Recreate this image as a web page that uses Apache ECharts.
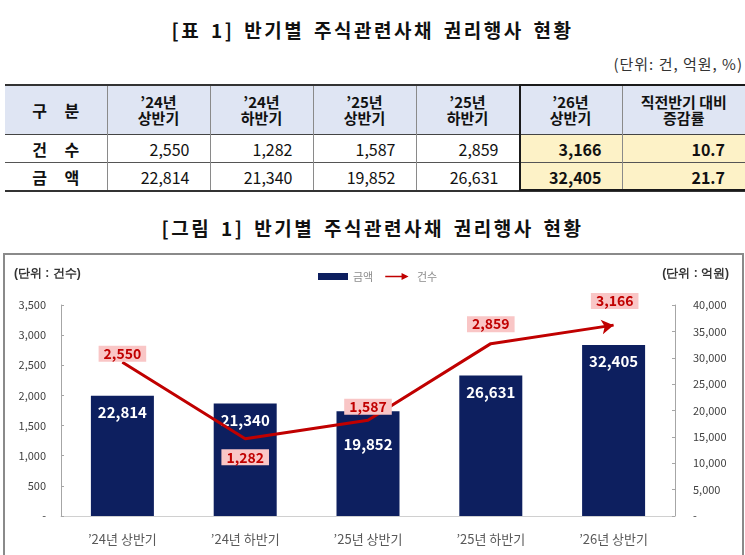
<!DOCTYPE html>
<html>
<head>
<meta charset="utf-8">
<script src="https://cdn.jsdelivr.net/npm/echarts@6/dist/echarts.min.js"></script>
<style>
  body { margin: 0; background: #fff; font-family: "Noto Sans CJK KR", "Noto Sans", sans-serif; }
  .page { position: relative; width: 745px; height: 555px; overflow: hidden; }
  .title { position: absolute; left: 0; width: 745px; text-align: center; font-size: 19px; font-weight: bold; color: #111; letter-spacing: 2.5px; word-spacing: 3px; line-height: 24px; }
  .unit { position: absolute; right: 2px; top: 53px; font-size: 15px; color: #333; letter-spacing: 1px; }
  table { position: absolute; left: 5px; top: 84px; width: 740px; border-collapse: collapse; table-layout: fixed; }
  th, td { border-left: 1px solid #8a8a8a; padding: 0; color: #111; }
  th:first-child, td:first-child { border-left: none; }
  thead tr { border-top: 2px solid #333; border-bottom: 1px solid #444; background: #dfe5f3; }
  th { height: 48px; font-size: 15px; font-weight: 600; line-height: 16px; }
  td { height: 27px; font-size: 16px; text-align: right; padding-right: 20px; }
  tbody tr { border-bottom: 1px solid #555; }
  tbody tr:last-child { border-bottom: 2px solid #333; }
  .rowhead { text-align: center; padding-right: 0; font-weight: bold; word-spacing: 14px; }
  th.rowhead { font-size: 16px; }
  .hl { background: #fdf2c7; font-weight: bold; }
  .box26 { position: absolute; left: 519px; top: 84px; width: 240px; height: 103px; border: 2px solid #1a1a1a; pointer-events: none; }
  .chartbox { position: absolute; left: 3px; top: 253px; width: 737px; height: 320px; border: 2px solid #8a8a8a; }
  #chart { position: absolute; left: 0; top: 0; width: 745px; height: 555px; }
</style>
</head>
<body>
<div class="page">
  <div class="title" style="top:18px">[표 1] 반기별 주식관련사채 권리행사 현황</div>
  <div class="unit">(단위: 건, 억원, %)</div>
  <table id="tbl"></table>
  <div class="box26"></div>
  <div class="title" style="top:216px">[그림 1] 반기별 주식관련사채 권리행사 현황</div>
  <div class="chartbox"></div>
  <div id="chart"></div>
</div>
<script>
// 반기 구분
const categories = ['’24년 상반기', '’24년 하반기', '’25년 상반기', '’25년 하반기', '’26년 상반기']
// 건수
const countValues = [2550, 1282, 1587, 2859, 3166]
// 금액 (억원)
const amountValues = [22814, 21340, 19852, 26631, 32405]
// 직전반기 대비 증감률 (건수, 금액)
const changeRates = [10.7, 21.7]
const countTicks = [0, 3500, 500]
const amountTicks = [0, 40000, 5000]

const fmt = v => v.toLocaleString('en-US')

// 표
function buildTable() {
  const widths = [102, 103, 103, 103, 103, 103, 123]
  let html = '<colgroup>' + widths.map(w => '<col style="width:' + w + 'px">').join('') + '</colgroup>'
  html += '<thead><tr><th class="rowhead">구 분</th>'
  categories.forEach(c => {
    const parts = c.split(' ')
    html += '<th>' + parts[0] + '<br>' + parts[1] + '</th>'
  })
  html += '<th>직전반기 대비<br>증감률</th></tr></thead><tbody>'
  const rows = [['건 수', countValues, changeRates[0]], ['금 액', amountValues, changeRates[1]]]
  rows.forEach(r => {
    html += '<tr><td class="rowhead">' + r[0] + '</td>'
    r[1].forEach((v, i) => {
      html += '<td' + (i === r[1].length - 1 ? ' class="hl"' : '') + '>' + fmt(v) + '</td>'
    })
    html += '<td class="hl">' + r[2].toFixed(1) + '</td></tr>'
  })
  html += '</tbody>'
  document.getElementById('tbl').innerHTML = html
}
buildTable()

// 건수 라벨 위치
const countLabelPos = [
  { position: 'top', distance: 0 },
  { position: 'bottom', distance: 10 },
  { position: 'top', distance: 5 },
  { position: 'top', distance: 11 },
  { position: 'top', distance: 9, offset: [7, 0] }
]

const lineData = countValues.map((v, i) => {
  const item = { value: v, label: countLabelPos[i] }
  if (i === countValues.length - 1) {
    item.symbol = 'arrow'
    item.symbolSize = [11, 12]
    item.symbolRotate = -81
  }
  return item
})

const barData = amountValues.map((v, i) => {
  return i === 2 ? { value: v, label: { offset: [0, 17] } } : v
})

const axisLineStyle = { show: true, lineStyle: { color: '#a6a6a6', width: 1 } }

const option = {
  animation: false,
  textStyle: { fontFamily: '"Noto Sans CJK KR", "Noto Sans", sans-serif' },
  graphic: [
    { type: 'text', left: 14, top: 268, style: { text: '(단위 : 건수)', fontSize: 12, fontWeight: 'bold', fill: '#333' } },
    { type: 'text', right: 16, top: 268, style: { text: '(단위 : 억원)', fontSize: 12, fontWeight: 'bold', fill: '#333' } }
  ],
  legend: {
    left: 313,
    top: 266,
    itemWidth: 30,
    itemHeight: 7,
    itemGap: 12,
    textStyle: { color: '#8c8c8c', fontSize: 11 },
    data: [
      { name: '금액', icon: 'rect' },
      { name: '건수', icon: 'path://M0,4 L21,4 L21,0.5 L30,5 L21,9.5 L21,6 L0,6 Z' }
    ]
  },
  grid: { left: 61, right: 70, top: 305, bottom: 39 },
  xAxis: {
    type: 'category',
    data: categories,
    axisLine: { show: true, lineStyle: { color: '#d0d0d0' } },
    axisTick: { show: false },
    axisLabel: { color: '#595959', fontSize: 13, margin: 17 }
  },
  yAxis: [
    {
      type: 'value',
      min: countTicks[0],
      max: countTicks[1],
      interval: countTicks[2],
      axisLine: axisLineStyle,
      axisTick: { show: true, inside: true, length: 3, lineStyle: { color: '#a6a6a6' } },
      splitLine: { show: false },
      axisLabel: { color: '#404040', fontSize: 11, margin: 15, formatter: v => v === 0 ? '-' : fmt(v) }
    },
    {
      type: 'value',
      min: amountTicks[0],
      max: amountTicks[1],
      interval: amountTicks[2],
      axisLine: axisLineStyle,
      axisTick: { show: true, inside: true, length: 3, lineStyle: { color: '#a6a6a6' } },
      splitLine: { show: false },
      axisLabel: { color: '#404040', fontSize: 11, margin: 18, formatter: v => v === 0 ? '-' : fmt(v) }
    }
  ],
  series: [
    {
      name: '금액',
      type: 'bar',
      yAxisIndex: 1,
      barWidth: 63,
      data: barData,
      itemStyle: { color: '#0d1f5f' },
      label: {
        show: true,
        position: 'insideTop',
        distance: 9,
        color: '#fff',
        fontSize: 15,
        fontWeight: 'bold',
        formatter: p => fmt(p.value)
      }
    },
    {
      name: '건수',
      type: 'line',
      yAxisIndex: 0,
      data: lineData,
      symbol: 'circle',
      symbolSize: 1,
      itemStyle: { color: '#c00000' },
      lineStyle: { color: '#c00000', width: 3 },
      label: {
        show: true,
        color: '#c00000',
        fontSize: 14,
        fontWeight: 'bold',
        backgroundColor: '#f9c6c6',
        padding: [1, 5],
        formatter: p => fmt(p.value)
      },
      z: 5
    }
  ]
}

const myChart = echarts.init(document.getElementById('chart'))
myChart.setOption(option)
</script>
</body>
</html>
